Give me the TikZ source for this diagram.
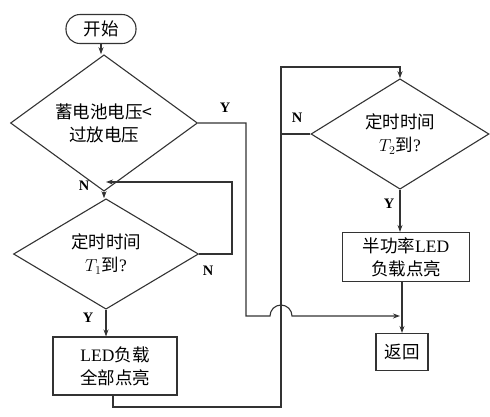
\documentclass[tikz,border=0pt]{standalone}
\usepackage{fontspec}
\setmainfont{Liberation Serif}
\newfontfamily\cjk{Noto Sans CJK SC}
\usetikzlibrary{shapes.geometric, arrows.meta}

\begin{document}
\begin{tikzpicture}[x=1pt, y=-1pt, >={Stealth[length=7pt, width=5pt]},
    every node/.style={font=\fontsize{17.5}{23}\selectfont, align=center, inner sep=0pt},
    flowline/.style={line width=1.1pt, draw=black!80},
    decide/.style={diamond, flowline, minimum width=#1},
    procbox/.style={rectangle, flowline},
    yn/.style={font=\fontsize{14.5}{14.5}\selectfont\bfseries}]
    \useasboundingbox (0,0) rectangle (490,416);

    % Ô bắt đầu và các khối quyết định / xử lý
    \node[flowline, rounded corners=14pt, minimum width=70pt, minimum height=29pt] (start) at (101,29) {\cjk 开始};
    \node[decide=187pt, minimum height=97pt] (chkbat) at (104,123) {\cjk 蓄电池电压<\\\cjk 过放电压};
    \node[decide=185pt, minimum height=95pt] (chkt1) at (106,254) {\cjk 定时时间\\$T_1$\cjk 到{\rmfamily ?}};
    \node[procbox, minimum width=124pt, minimum height=58pt] (ledall) at (115,366) {LED\cjk 负载\\\cjk 全部点亮};
    \node[decide=178pt, minimum height=95pt] (chkt2) at (400,134) {\cjk 定时时间\\$T_2$\cjk 到{\rmfamily ?}};
    \node[procbox, minimum width=127pt, minimum height=49pt] (ledhalf) at (406,257) {\cjk 半功率{\rmfamily LED}\\\cjk 负载点亮};
    \node[procbox, minimum width=52pt, minimum height=37pt] (ret) at (402,352) {\cjk 返回};

    % Các điểm nối trên đường
    \coordinate (loopin) at (106,182);
    \coordinate (merge) at (400,316);

    % Các đường nối
    \draw[flowline, ->] (start) -- (start |- chkbat.north);
    \draw[flowline, ->] (chkbat.south) -- (chkbat.south |- chkt1.north);
    \draw[flowline, ->] (chkt1.east) -- (232,254) -- (232,182) -- (loopin);
    \draw[flowline, ->] (chkt1.south) -- (chkt1.south |- ledall.north);
    \draw[flowline, ->] (113,395) -- (113,407) -- (281,407) -- (281,67) -- (400,67) -- (chkt2.north);
    \draw[flowline] (chkt2.west) -- (281,134);
    \draw[flowline, ->] (chkt2.south) -- (chkt2.south |- ledhalf.north);
    \draw[flowline, ->] (ledhalf.south -| ret.north) -- (ret.north);
    % Đường Y vòng qua, nhảy cầu qua đường dọc
    \draw[flowline, ->] (chkbat.east) -- (246,123) -- (246,316) -- (270,316)
        arc[start angle=180, end angle=0, radius=11pt] -- (merge);

    % Nhãn Y / N
    \node[yn] at (225,108) {Y};
    \node[yn] at (84,186) {N};
    \node[yn] at (208,271) {N};
    \node[yn] at (88,318) {Y};
    \node[yn] at (297,118) {N};
    \node[yn] at (389,204) {Y};
\end{tikzpicture}
\end{document}
